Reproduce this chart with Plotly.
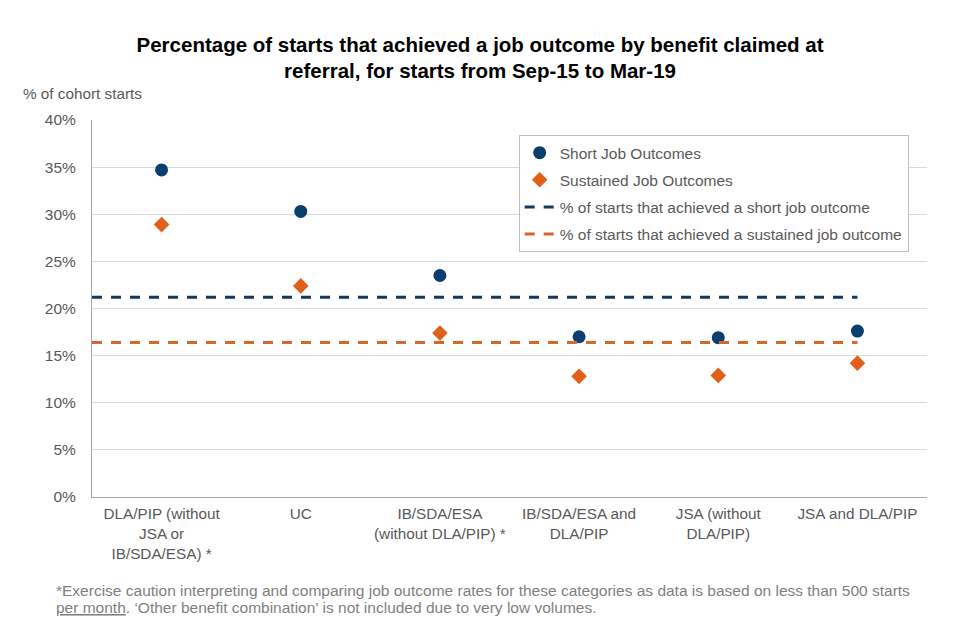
import plotly.graph_objects as go

categories = ["DLA/PIP (without<br>JSA or<br>IB/SDA/ESA) *", "UC", "IB/SDA/ESA<br>(without DLA/PIP) *",
              "IB/SDA/ESA and<br>DLA/PIP", "JSA (without<br>DLA/PIP)", "JSA and DLA/PIP"]
short_jo = [34.7, 30.3, 23.5, 17.0, 16.9, 17.6]
sustained_jo = [28.9, 22.4, 17.4, 12.8, 12.9, 14.2]
short_avg = 21.2
sustained_avg = 16.4
y_ticks = [0, 5, 10, 15, 20, 25, 30, 35, 40]

idx = list(range(len(categories)))
x_start = -0.5
x_end = idx[-1]

NAVY = "#0b3d6e"
ORANGE = "#e0601a"
GREY = "#595959"

fig = go.Figure()
fig.add_trace(go.Scatter(x=idx, y=short_jo, mode="markers", name="Short Job Outcomes", legendgroup="a",
                         marker=dict(symbol="circle", size=13, color=NAVY)))
fig.add_trace(go.Scatter(x=idx, y=sustained_jo, mode="markers", name="Sustained Job Outcomes", legendgroup="b",
                         marker=dict(symbol="diamond", size=12, color=ORANGE)))
fig.add_trace(go.Scatter(x=[x_start, x_end], y=[short_avg, short_avg], mode="lines", legendgroup="c",
                         name="% of starts that achieved a short job outcome",
                         line=dict(color="#133a5e", width=3, dash="10px,9px")))
fig.add_trace(go.Scatter(x=[x_start, x_end], y=[sustained_avg, sustained_avg], mode="lines", legendgroup="d",
                         name="% of starts that achieved a sustained job outcome",
                         line=dict(color="#d2692a", width=3, dash="10px,9px")))

fig.update_layout(
    width=960, height=640,
    margin=dict(l=84, r=41, t=112, b=151),
    paper_bgcolor="white", plot_bgcolor="white",
    font=dict(family="Liberation Sans, Arial, sans-serif", size=15.5, color=GREY),
    title=dict(text="<b>Percentage of starts that achieved a job outcome by benefit claimed at<br>referral, for starts from Sep-15 to Mar-19</b>",
               x=0.4917, xanchor="center", y=0.932, yanchor="top",
               font=dict(family="Liberation Sans, Arial", size=20.5, color="black")),
    showlegend=True,
    legend=dict(x=0.511, y=0.960, xanchor="left", yanchor="top",
                bordercolor="#bfbfbf", borderwidth=1, bgcolor="white",
                font=dict(size=15.5, color=GREY), traceorder="grouped", tracegroupgap=4, itemwidth=30),
    xaxis=dict(range=[-0.5, len(categories) - 0.5], tickmode="array", tickvals=idx, ticktext=categories,
               showgrid=False, zeroline=False, showline=True, linecolor="#a6a6a6", linewidth=1,
               ticks="", ticklabelstandoff=3, tickfont=dict(size=15.3, color=GREY)),
    yaxis=dict(range=[0, 40], tickmode="array", tickvals=y_ticks,
               ticktext=[f"{v}%" for v in y_ticks],
               showgrid=True, gridcolor="#d9d9d9", gridwidth=1, zeroline=False,
               showline=True, linecolor="#a6a6a6", linewidth=1, ticks="", ticklabelstandoff=12,
               tickfont=dict(size=15.5, color=GREY)),
)

fig.add_annotation(text="% of cohort starts", xref="paper", yref="paper", x=-0.085, y=1.0716,
                   xanchor="left", yanchor="middle", showarrow=False,
                   font=dict(size=15.3, color=GREY))
fig.add_annotation(text="*Exercise caution interpreting and comparing job outcome rates for these categories as data is based on less than 500 starts",
                   xref="paper", yref="paper", x=-0.045, y=-(590 - 497) / 377, xanchor="left", yanchor="middle",
                   align="left", showarrow=False, font=dict(size=15.5, color="#7f7f7f"))
fig.add_annotation(text="<u>per month</u>. ‘Other benefit combination’ is not included due to very low volumes.",
                   xref="paper", yref="paper", x=-0.045, y=-(607 - 497) / 377, xanchor="left", yanchor="middle",
                   align="left", showarrow=False, font=dict(size=15.5, color="#7f7f7f"))

fig.write_html("out.html")
